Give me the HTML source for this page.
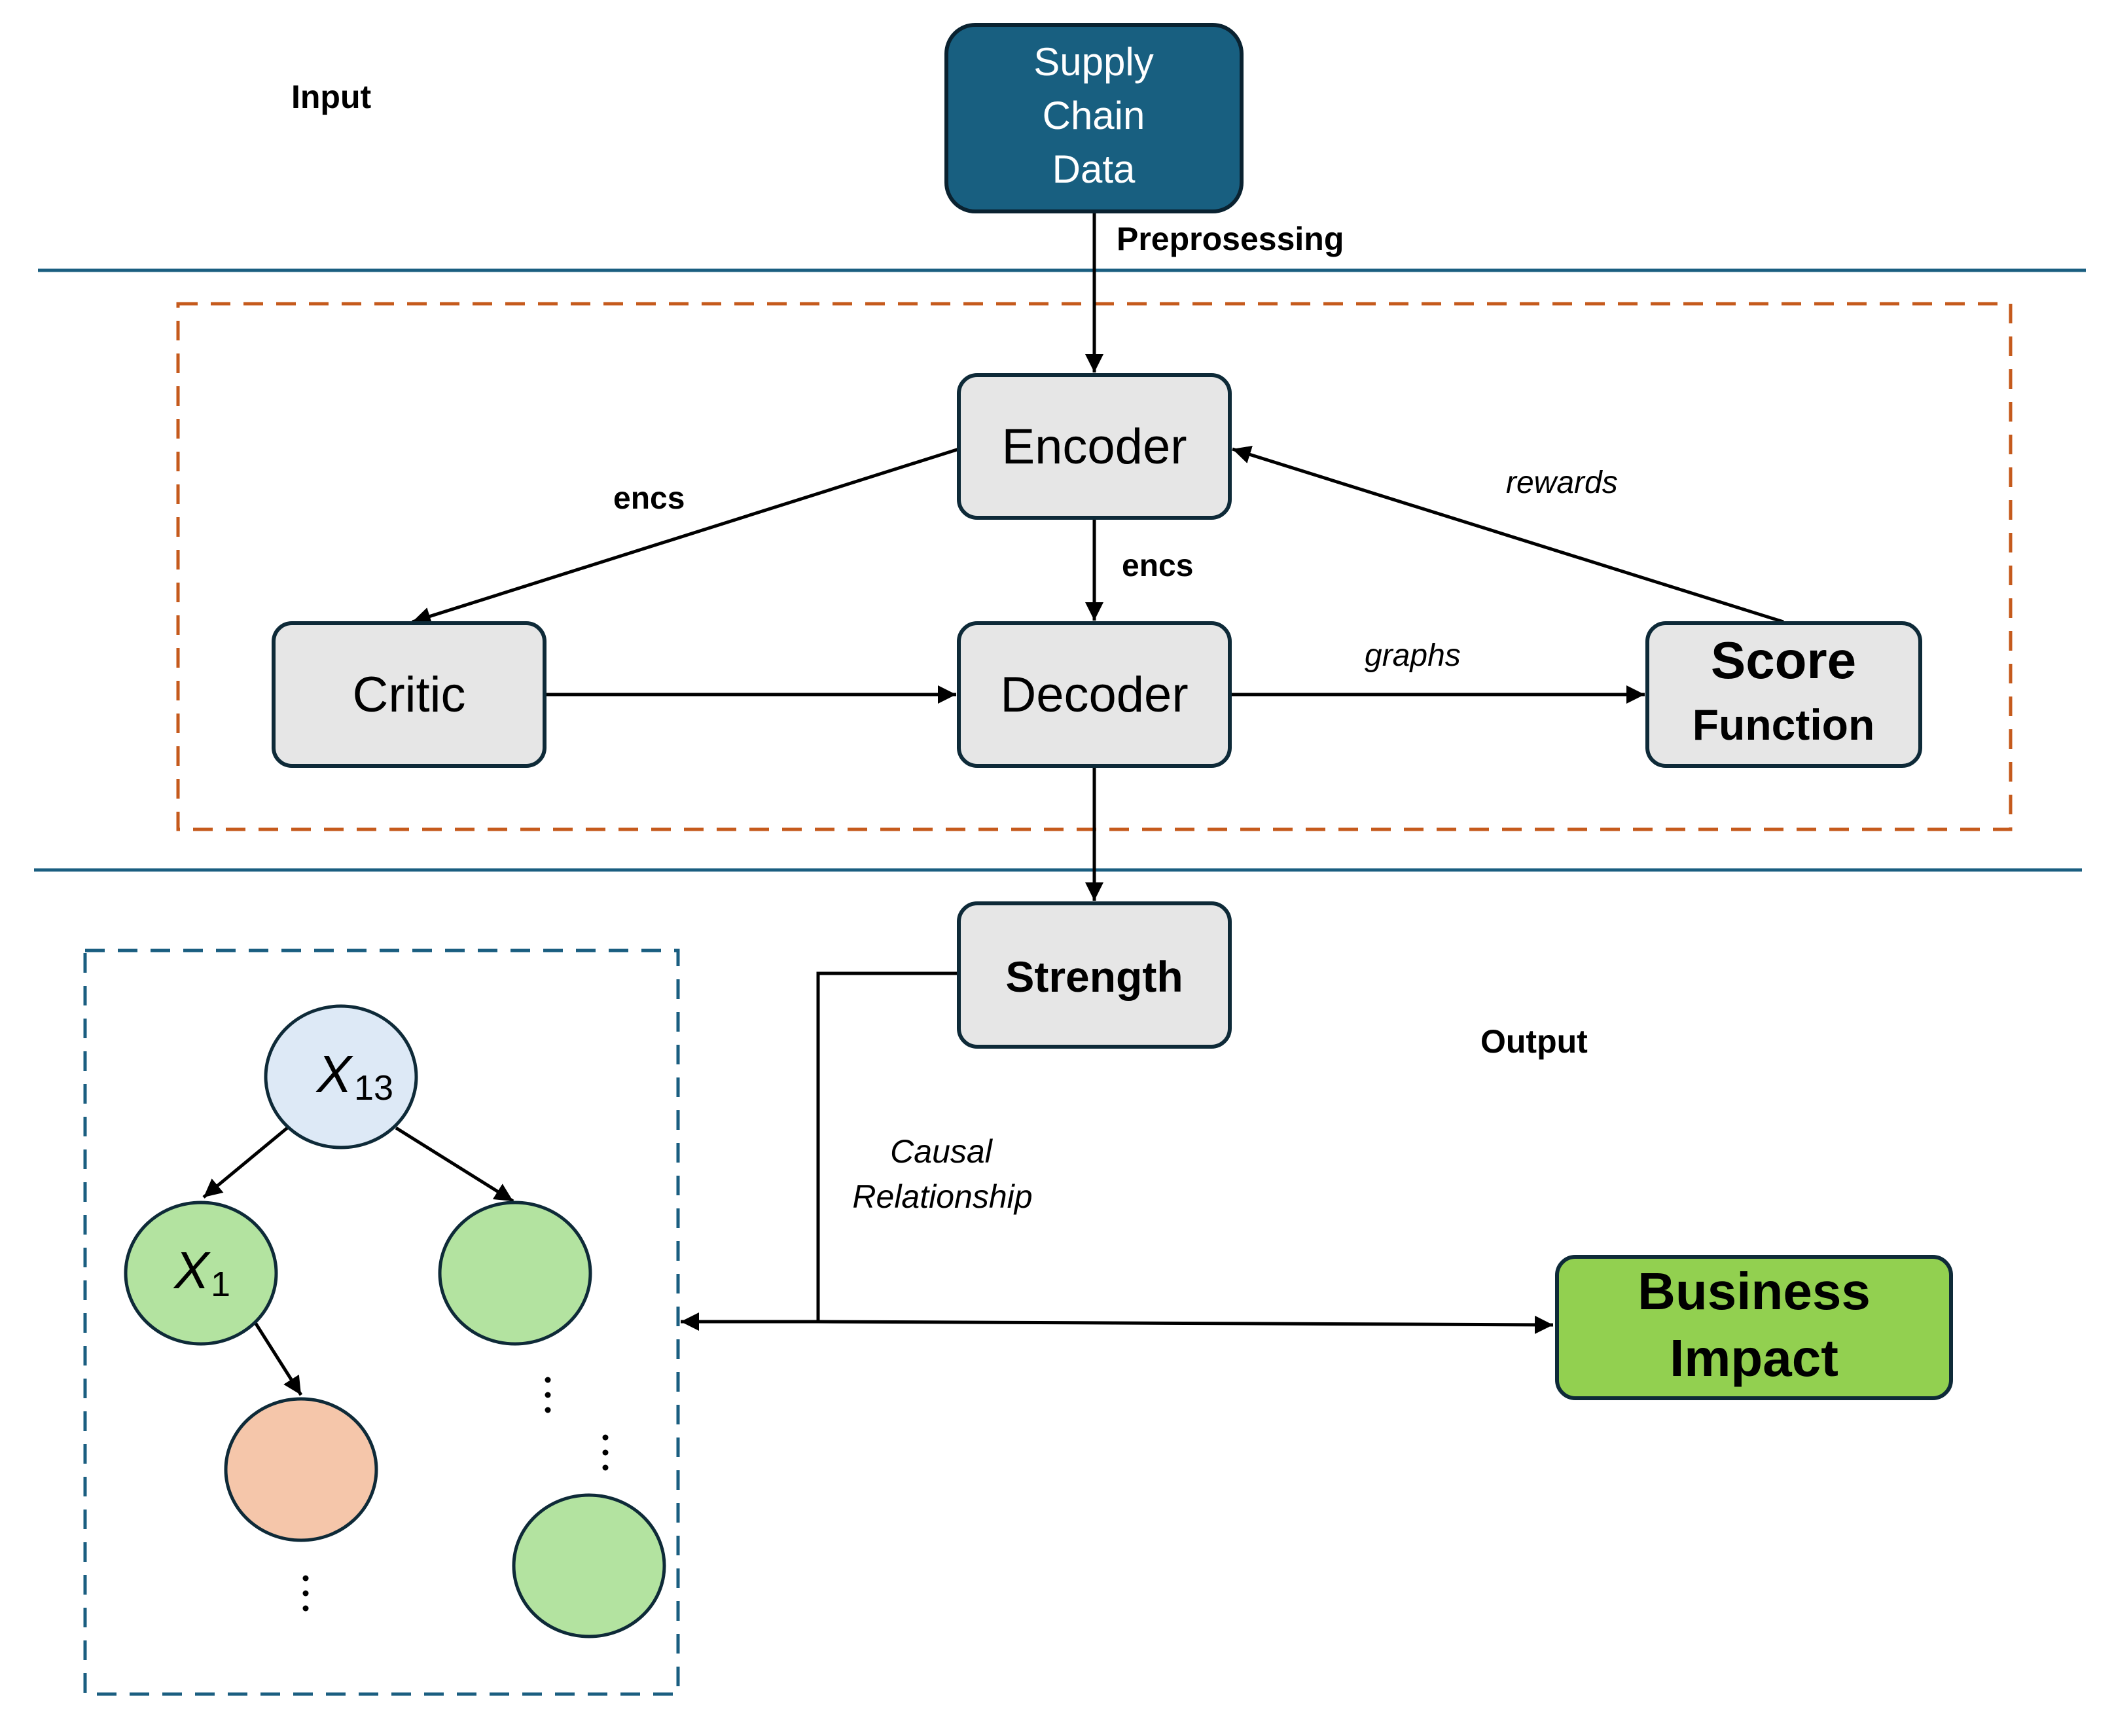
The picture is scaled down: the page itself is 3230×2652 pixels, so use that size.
<!DOCTYPE html>
<html><head><meta charset="utf-8"><style>
html,body{margin:0;padding:0;background:#fff;}
svg{display:block;}
text{font-family:"Liberation Sans","DejaVu Sans",sans-serif;}
</style></head><body>
<svg width="3230" height="2652" viewBox="0 0 3230 2652" xmlns="http://www.w3.org/2000/svg">
<defs>
<marker id="ar" viewBox="0 0 10 10" refX="10" refY="5" markerWidth="28" markerHeight="28" markerUnits="userSpaceOnUse" orient="auto"><path d="M0,0 L10,5 L0,10 z" fill="#000"/></marker>
</defs>
<rect width="3230" height="2652" fill="#fff"/>
<line x1="58" y1="413" x2="3187" y2="413" stroke="#1a5e80" stroke-width="5"/>
<line x1="52" y1="1329" x2="3181" y2="1329" stroke="#1a5e80" stroke-width="5"/>
<rect x="272" y="464" width="2800" height="803" fill="none" stroke="#c55a1c" stroke-width="5" stroke-dasharray="30 20"/>
<rect x="130" y="1452" width="906" height="1136" fill="none" stroke="#1a5e80" stroke-width="5" stroke-dasharray="30 20"/>

<text x="445" y="165" font-size="50" font-weight="bold">Input</text>
<text x="1706" y="382" font-size="50" font-weight="bold">Preprosessing</text>
<text x="2262" y="1608" font-size="50" font-weight="bold">Output</text>

<g stroke="#000" stroke-width="5" fill="none">
<line x1="1672" y1="325" x2="1672" y2="569" marker-end="url(#ar)"/>
<line x1="1465" y1="686" x2="630" y2="950" marker-end="url(#ar)"/>
<line x1="2725" y1="950" x2="1883" y2="686" marker-end="url(#ar)"/>
<line x1="1672" y1="791" x2="1672" y2="948" marker-end="url(#ar)"/>
<line x1="832" y1="1061" x2="1461" y2="1061" marker-end="url(#ar)"/>
<line x1="1879" y1="1061" x2="2513" y2="1061" marker-end="url(#ar)"/>
<line x1="1672" y1="1170" x2="1672" y2="1376" marker-end="url(#ar)"/>
<polyline points="1465,1487 1250,1487 1250,2019"/>
<line x1="1250" y1="2019" x2="1040" y2="2019" marker-end="url(#ar)"/>
<line x1="1250" y1="2019" x2="2373" y2="2024" marker-end="url(#ar)"/>
</g>

<text x="937" y="777" font-size="48" font-weight="bold">encs</text>
<text x="1714" y="880" font-size="48" font-weight="bold">encs</text>
<text x="2301" y="753" font-size="48" font-style="italic">rewards</text>
<text x="2085" y="1017" font-size="48" font-style="italic">graphs</text>
<text x="1438" y="1776" font-size="50" font-style="italic" text-anchor="middle">Causal</text>
<text x="1440" y="1845" font-size="50" font-style="italic" text-anchor="middle">Relationship</text>

<rect x="1446" y="38" width="451" height="285" rx="44" fill="#185f80" stroke="#0a2230" stroke-width="6"/>
<text x="1671" y="115" font-size="60" fill="#fff" text-anchor="middle">Supply</text>
<text x="1671" y="197" font-size="60" fill="#fff" text-anchor="middle">Chain</text>
<text x="1671" y="279" font-size="60" fill="#fff" text-anchor="middle">Data</text>

<g stroke="#0e2a38" stroke-width="6" fill="#e6e6e6">
<rect x="1465" y="573" width="414" height="218" rx="28"/>
<rect x="418" y="952" width="414" height="218" rx="28"/>
<rect x="1465" y="952" width="414" height="218" rx="28"/>
<rect x="2517" y="952" width="417" height="218" rx="28"/>
<rect x="1465" y="1380" width="414" height="219" rx="28"/>
</g>
<text x="1672" y="708" font-size="76" text-anchor="middle">Encoder</text>
<text x="625" y="1087" font-size="76" text-anchor="middle">Critic</text>
<text x="1672" y="1087" font-size="76" text-anchor="middle">Decoder</text>
<text x="2725" y="1036" font-size="80" font-weight="bold" text-anchor="middle">Score</text>
<text x="2725" y="1130" font-size="66" font-weight="bold" text-anchor="middle">Function</text>
<text x="1672" y="1515" font-size="66" font-weight="bold" text-anchor="middle">Strength</text>

<rect x="2379" y="1920" width="602" height="216" rx="28" fill="#92d050" stroke="#0e2a38" stroke-width="6"/>
<text x="2680" y="2000" font-size="80" font-weight="bold" text-anchor="middle">Business</text>
<text x="2680" y="2102" font-size="80" font-weight="bold" text-anchor="middle">Impact</text>

<g stroke="#000" stroke-width="5">
<line x1="439" y1="1723" x2="311" y2="1829" marker-end="url(#ar)"/>
<line x1="605" y1="1723" x2="784" y2="1835" marker-end="url(#ar)"/>
<line x1="389" y1="2019" x2="460" y2="2131" marker-end="url(#ar)"/>
</g>
<g stroke="#0e2a38" stroke-width="5">
<ellipse cx="521" cy="1645" rx="115" ry="108" fill="#dde9f6"/>
<ellipse cx="307" cy="1945" rx="115" ry="108" fill="#b3e3a0"/>
<ellipse cx="787" cy="1945" rx="115" ry="108" fill="#b3e3a0"/>
<ellipse cx="460" cy="2245" rx="115" ry="108" fill="#f5c6aa"/>
<ellipse cx="900" cy="2392" rx="115" ry="108" fill="#b3e3a0"/>
</g>
<text x="484" y="1668" font-size="80" font-style="italic" font-family="Liberation Serif,serif">X</text>
<text x="541" y="1680" font-size="54" font-family="Liberation Serif,serif">13</text>
<text x="266" y="1968" font-size="80" font-style="italic" font-family="Liberation Serif,serif">X</text>
<text x="322" y="1980" font-size="54" font-family="Liberation Serif,serif">1</text>
<g fill="#000">
<circle cx="837" cy="2108" r="4.5"/><circle cx="837" cy="2131" r="4.5"/><circle cx="837" cy="2154" r="4.5"/>
<circle cx="925" cy="2196" r="4.5"/><circle cx="925" cy="2219" r="4.5"/><circle cx="925" cy="2242" r="4.5"/>
<circle cx="467" cy="2411" r="4.5"/><circle cx="467" cy="2434" r="4.5"/><circle cx="467" cy="2457" r="4.5"/>
</g>
</svg>
</body></html>
